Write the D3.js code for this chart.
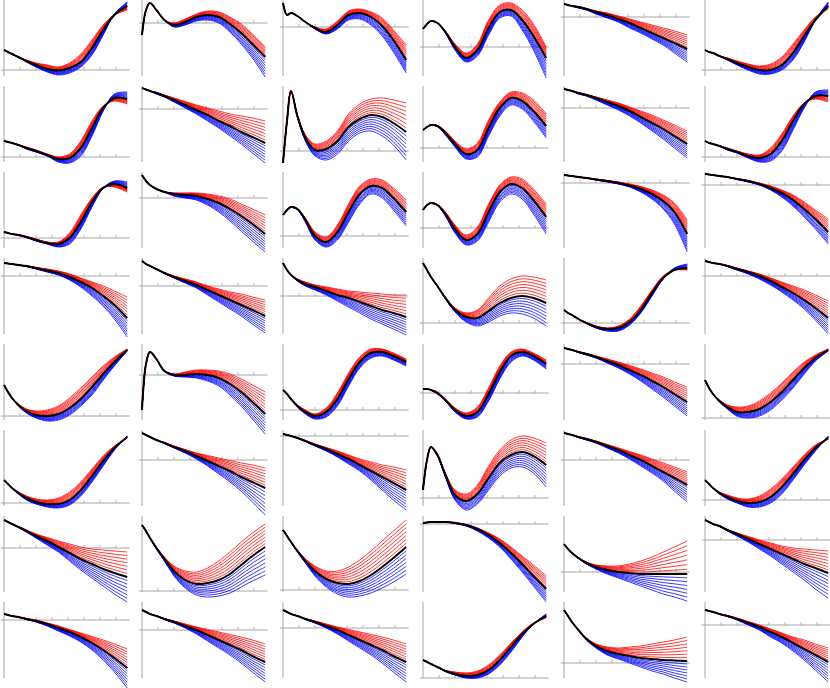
<!DOCTYPE html>
<html><head><meta charset="utf-8">
<script src="https://cdn.jsdelivr.net/npm/d3@7"></script>
<style>html,body{margin:0;padding:0;background:#fff;}svg{display:block;}</style>
</head><body><svg id="chart" width="830" height="688"></svg>
<script>
const xValues = [0,0.25,0.5,0.9,1.4,2,2.7,3.4,4.1,4.8,5.5,6.2,6.9,7.7];
const tickValues = [1,2,3,4,5,6,7];
const familySize = 7;
// value at the top edge of each panel (x-axis is at 0)
const panelTops = [
 70,23,27,47,17,70,
 71,23,65,62,22,71,
 66,26,64,56,11,13,
 18,28,38,65,65,18,
 72,31,66,49,20,74,
 73,30,6,68,30,70,
 32,75,74,8,56,24,
 18,28,26,76,61,23];
const centralCurves = [
 [20,18,16,13,9,5,1,-0.5,2,8,22,40,55,64],
 [-12,13,20,13,3,-2,1,6,8,6,-1,-10,-21,-34],
 [24,12,14,11,5,-1,-5,2,12,14,10,1,-13,-33],
 [18,23,26,24,15,0,-11,-3,19,35,37,27,11,-11],
 [13,12,11,10,8,5,2,-2,-6,-11,-16,-21,-26,-32],
 [20,18,17,14,11,7,3,0,0,5,17,34,50,64],
 [16,15,14,12,9,6,2,-2,-1,9,29,49,59,58],
 [21,19.5,18,16,13,9,4,-1,-6,-12,-17,-23,-28,-34],
 [-12,30,60,35,13,1,2,10,24,32,36,34,28,19],
 [18,21,23,22,15,4,-6,-2,20,40,50,47,37,22],
 [19,18,17,15,13,10,6,2,-3,-9,-15,-21,-28,-36],
 [16,14,13,11,8,5,1,-1,3,16,36,53,61,61],
 [6,5,4,3,1,-2,-5,-6,0,16,36,50,54,50],
 [23,17,13,9,6,4,3,2,-1,-5,-11,-18,-26,-36],
 [21,26,29,27,16,0,-6,4,24,42,50,48,38,24],
 [18,23,25,23,14,-1,-12,-6,16,36,44,40,28,11],
 [8,7.5,7,6,5,3.5,2,0,-2.5,-6,-11,-18,-29,-51],
 [11,10.5,10,9,8,6,4,1,-3,-8,-15,-24,-34,-47],
 [13,12.5,12,11,10,8,5.5,3,-1,-6,-12,-20,-29,-42],
 [25,22,20,17,13,9,5,1,-4,-9,-14,-19,-24,-30],
 [33,26,21,16,12,9,5,1,-2,-6,-10,-14,-17,-21],
 [60,53,46,37,25,13,6,5,12,20,25,27,25,20],
 [13,10,8,4,0,-4,-6,-5,1,13,30,45,53,55],
 [15,14,13,12,10,7,4,0,-5,-11,-17,-24,-32,-42],
 [31,24,18,11,5,1,0,2,8,17,29,42,54,66],
 [-35,11,23,16,4,0,0,1,0,-3,-9,-17,-27,-39],
 [20,16,11,4,-2,-6,-2,11,31,48,57,58,54,48],
 [4,4,3,0,-7,-17,-23,-19,-1,21,37,41,37,29],
 [16,15,14,12,10,7,3,-1,-6,-11,-17,-23,-30,-38],
 [38,30,24,17,11,6,6,9,16,26,38,50,60,68],
 [23,19,15,10,5,1,-1,-1,3,13,27,42,55,66],
 [27,25,23,20,17,13,9,4,-1,-6,-11,-17,-22,-28],
 [2,1,0,-2,-5,-9,-13,-18,-23,-29,-35,-41,-47,-54],
 [8,38,51,43,23,3,-3,4,20,35,43,46,42,33],
 [27,26,25,23,21,18,14,10,5,0,-6,-12,-18,-25],
 [20,16,12,7,3,-1,-3,-2,3,13,26,40,52,62],
 [28,26,24,21,17,12,7,1,-5,-11,-16,-21,-25,-29],
 [66,60,53,43,32,20,11,7,8,11,17,26,35,44],
 [60,54,48,39,29,19,11,7,6,9,15,23,32,43],
 [1,1.5,2,2,2,1,-1,-5,-11,-19,-29,-40,-52,-65],
 [28,23,19,14,9,5,2,0,-1,-2,-2,-2,-2,-2],
 [20,18,16,14,10,6,1,-4,-9,-14,-19,-24,-28,-33],
 [6,5,4,3,1,-1,-4,-8,-12,-17,-23,-30,-38,-48],
 [20,18,16,14,11,8,4,0,-5,-10,-15,-20,-26,-32],
 [18,16,14,12,9,6,2,-2,-7,-12,-17,-22,-28,-34],
 [18,16,14,11,7,4,2,3,8,18,31,44,54,62],
 [53,47,41,33,24,17,12,9,7,5,4,3,2.5,2],
 [15,14,13,11,9,6,2,-2,-7,-12,-18,-24,-30,-37]];
const upperCurves = [
 [20,18,16,13,10,7,5,3,7,16,30,45,55,60],
 [-12,13,20,13,3,0,4,9,12,11,6,-1,-11,-24],
 [24,12,14,11,5,0,-2,6,16,18,15,9,-3,-18],
 [18,23,26,24,16,3,-6,3,27,42,44,37,23,0],
 [13,12,11,10.5,8.5,6,4,1,-2,-5,-8,-11,-14,-18],
 [20,18,17,14,12,9,6,4,6,13,26,40,53,61],
 [16,15,14,12,10,7,3,0,3,16,36,51,56,53],
 [21,19.5,18,16.5,14,11,7.5,4,1,-2,-5,-7,-9,-12],
 [-12,30,60,36,16,7,10,20,37,47,52,53,51,48],
 [18,21,23.5,22.5,17,7,-1,5,28,46,56,55,48,34],
 [19,18,17,15.5,13.5,11,8,5,1,-3,-7,-12,-17,-23],
 [16,14,13,11,9,6,3,2,9,23,41,54,58,55],
 [6,5,4,3,1.5,-1,-4,-4,5,23,40,51,51,46],
 [23,17,13,9,6,5,5,5,4,2,-1,-6,-11,-17],
 [21,26,29.5,27.5,18,4,-1,11,32,50,57,56,48,36],
 [18,23,25.5,23.5,16,3,-7,1,24,43,51,49,39,24],
 [8,7.5,7,6,5,4,2.5,1,-1,-3.5,-7,-12,-20,-37],
 [11,10.5,10,9,8,6.5,4.5,2,-1,-5,-10,-17,-25,-34],
 [13,12.5,12,11,10,8.5,7,5,2,-2,-6,-10,-15,-21],
 [25,22,20,17,13.5,10,7,4,0,-3,-6,-8,-11,-14],
 [33,26,21,17,14,11,9,7,5,4,3,2,1,1],
 [60,53,46,37,26,15,10,13,25,37,44,47,46,43],
 [13,10,8,4,0.5,-3,-5,-3,4,17,33,47,53,53],
 [15,14,13,12,10.5,8,5,2,-2,-6,-10,-14,-19,-25],
 [31,24,18,12,7,5,6,10,18,28,39,50,59,67],
 [-35,11,23,16,4,1,3,5,5,4,1,-4,-10,-17],
 [20,16,11,5,0,-4,2,17,37,53,61,61,57,51],
 [4,4,3,1,-6,-15,-20,-14,5,27,41,44,40,33],
 [16,15,14,12.5,10.5,8,5,2,-1.5,-5,-9,-13,-18,-23],
 [38,30,24,18,13,11,12,17,25,35,46,56,63,69],
 [23,19,15,11,7,4,3,5,11,21,34,47,57,65],
 [27,25,23,20,17.5,14,10.5,7,4.5,2,-0.5,-3,-5,-8],
 [2,1,0,-2,-4.5,-8,-11.5,-15,-19,-23,-26,-29,-31,-34],
 [8,38,51,44,25,8,4,13,32,48,58,62,60,55],
 [27,26,25,23.5,21.5,19,15.5,12,8.5,5,1,-3,-7,-12],
 [20,16,12,8,5,2,1,4,11,21,33,45,55,61],
 [28,26,24,21.5,18,14,10.5,7,4,1,-1,-2,-3,-4],
 [66,60,53,44,34,25,20,19,23,30,39,49,58,67],
 [60,54,48,40,31,24,19,19,23,30,39,49,59,70],
 [1,1.5,2,2,2,1.5,-0.5,-4,-9,-15,-23,-32,-41,-52],
 [28,23,19,14.5,10,7,6,6,8,11,15,20,25,31],
 [20,18,16,14,10.5,7,3.5,0,-3,-6,-8,-9,-10,-11],
 [6,5,4,3,1.5,0,-3,-6,-9.5,-13,-16.5,-20,-24,-29],
 [20,18,16,14,11.5,9,6,3,0.5,-2,-4.5,-7,-10,-14],
 [18,16,14,12,9.5,7,4,1,-1.5,-4,-6.5,-9,-12,-16],
 [18,16,14,11,7.5,6,5,7,13,23,35,46,55,60],
 [53,47,41,33,25,19,16,15,16,17,19,21,23,26],
 [15,14,13,11,9.5,7,3.5,0,-4,-8,-12,-15,-19,-23]];
const lowerCurves = [
 [20,18,16,13,8,3,-2,-5,-3,3,15,35,56,68],
 [-12,13,20,13,3,-4,-2,2,3,0,-9,-21,-35,-54],
 [24,12,14,11,5,-2,-7,-2,7,8,2,-9,-25,-46],
 [18,23,26,24,14,-3,-15,-9,12,29,31,17,-3,-31],
 [13,12,11,9,7,3,-1,-5,-11,-16,-22,-28,-36,-45],
 [20,18,17,14,10,5,0,-4,-4,0,10,28,50,68],
 [16,15,14,12,8,5,1,-5,-6,1,21,46,63,65],
 [21,19.5,18,15,12,7,1,-5,-12,-19,-27,-35,-44,-54],
 [-12,30,60,34,10,-5,-9,-3,10,18,20,15,6,-9],
 [18,21,22.5,21.5,13,1,-11,-9,12,32,43,39,27,10],
 [19,18,17,14,12,8,3,-2,-8,-15,-23,-31,-40,-50],
 [16,14,13,11,7,4,-1,-5,-4,6,27,49,65,67],
 [6,5,4,3,0.5,-3,-6,-9,-6,9,31,50,57,56],
 [23,17,13,9,6,2,0,-2,-7,-14,-23,-33,-43,-54],
 [21,26,28.5,26.5,14,-4,-11,-4,14,32,42,38,26,10],
 [18,23,24.5,22.5,12,-5,-17,-13,6,26,34,29,14,-6],
 [8,7.5,7,6,5,3,1,-1,-4,-9,-16,-26,-41,-69],
 [11,10.5,10,9,8,5.5,3,0,-5,-12,-21,-32,-44,-59],
 [13,12.5,12,11,9.5,7,4,1,-4,-11,-20,-30,-43,-61],
 [25,22,20,17,12.5,8,3,-2,-9,-16,-23,-30,-38,-47],
 [33,26,21,15,10,6,1,-5,-11,-17,-23,-28,-33,-39],
 [60,53,46,37,24,11,1,-3,1,7,10,9,5,-3],
 [13,10,8,4,-0.5,-5,-8,-8,-2,10,27,44,55,59],
 [15,14,13,12,9.5,6,2,-3,-9,-16,-24,-33,-44,-58],
 [31,24,18,10,3,-2,-5,-4,1,10,21,36,50,65],
 [-35,11,23,16,4,-1,-2,-3,-6,-11,-20,-31,-44,-59],
 [20,16,11,3,-4,-9,-7,4,24,42,52,54,50,44],
 [4,4,3,-1,-8,-19,-26,-24,-8,14,31,37,33,24],
 [16,15,14,11.5,9,6,1,-4,-10,-17,-25,-33,-42,-52],
 [38,30,24,16,9,2,0,2,8,18,30,44,57,67],
 [23,19,15,9,3,-1,-4,-5,-2,7,21,37,53,67],
 [27,25,23,20,16.5,12,7,1,-6,-14,-22,-31,-42,-55],
 [2,1,0,-2,-5.5,-10,-15,-21,-28,-35,-44,-54,-64,-74],
 [8,38,51,42,21,-2,-12,-6,8,22,30,31,25,11],
 [27,26,25,22.5,20,17,12,7,1,-6,-13,-21,-31,-42],
 [20,16,12,6,1,-3,-7,-7,-3,6,20,35,49,64],
 [28,26,24,20.5,16,10,3,-4,-13,-22,-30,-38,-46,-54],
 [66,60,53,42,30,15,3,-4,-6,-5,-2,4,10,16],
 [60,54,48,38,27,14,3,-4,-7,-6,-3,2,8,16],
 [1,1.5,2,2,2,0.5,-2,-7,-14,-23,-35,-48,-62,-78],
 [28,23,19,13.5,8,3,-2,-6,-10,-14,-18,-22,-25,-29],
 [20,18,16,13.5,9,4,-2,-9,-16,-24,-32,-40,-49,-58],
 [6,5,4,3,0.5,-2,-6,-11,-16,-22,-30,-40,-52,-68],
 [20,18,16,14,10.5,7,2,-4,-11,-18,-25,-33,-42,-52],
 [18,16,14,12,8.5,5,0,-6,-13,-20,-27,-35,-44,-54],
 [18,16,14,11,6.5,3,0,0,4,13,26,41,54,64],
 [53,47,41,33,23,15,8,4,0,-4,-8,-11,-15,-19],
 [15,14,13,11,8.5,5,0,-5,-12,-18,-26,-35,-45,-57]];

// layout
const colLefts = [4,142,283,423,564,705];
const rowHeight = 86, plotHeight = 76, plotWidth = 123.2, nCols = 6;
const svg = d3.select('#chart');
svg.append('rect').attr('width',830).attr('height',688).attr('fill','#fff');

centralCurves.forEach((black, i) => {
  const r = Math.floor(i / nCols), c = i % nCols;
  const top = r * rowHeight;
  const left = colLefts[c];
  const x = d3.scaleLinear().domain([0, 7.7]).range([left, left + plotWidth]);
  const yMax = panelTops[i];
  const y = d3.scaleLinear().domain([yMax - plotHeight, yMax]).range([top + plotHeight, top]);
  const g = svg.append('g');
  const axisCol = '#a6a6a6';
  // axes
  g.append('line').attr('x1', x(-0.2)).attr('x2', x(7.85)).attr('y1', y(0)).attr('y2', y(0))
    .attr('stroke', axisCol).attr('stroke-width', 1);
  g.selectAll('.tk').data(tickValues).enter().append('line')
    .attr('x1', d => x(d)).attr('x2', d => x(d)).attr('y1', y(0)).attr('y2', y(0) - 3)
    .attr('stroke', axisCol).attr('stroke-width', 0.8);
  g.append('line').attr('x1', x(0)).attr('x2', x(0)).attr('y1', y(yMax - plotHeight)).attr('y2', y(yMax))
    .attr('stroke', axisCol).attr('stroke-width', 1);

  const line = d3.line().x(d => x(d[0])).y(d => y(d[1])).curve(d3.curveCatmullRom.alpha(0.5));
  const upper = upperCurves[i], lower = lowerCurves[i];
  const fam = (outer, k) => xValues.map((xv, j) => [xv, black[j] + (outer[j] - black[j]) * k / familySize]);
  for (let k = familySize; k >= 1; k--) {
    g.append('path').attr('d', line(fam(lower, k))).attr('fill', 'none')
      .attr('stroke', '#0000ff').attr('stroke-width', 0.8);
  }
  for (let k = familySize; k >= 1; k--) {
    g.append('path').attr('d', line(fam(upper, k))).attr('fill', 'none')
      .attr('stroke', '#ff0000').attr('stroke-width', 0.8);
  }
  g.append('path').attr('d', line(xValues.map((xv, j) => [xv, black[j]]))).attr('fill', 'none')
    .attr('stroke', '#000').attr('stroke-width', 2);
});
</script></body></html>
